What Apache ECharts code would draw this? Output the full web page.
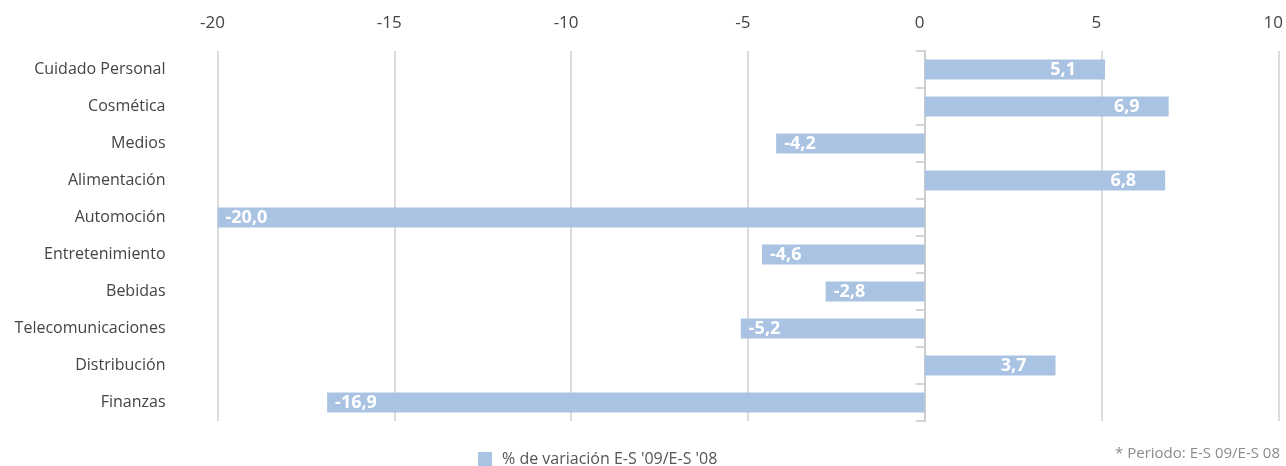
<!DOCTYPE html>
<html><head><meta charset="utf-8">
<script src="https://cdn.jsdelivr.net/npm/echarts@6/dist/echarts.min.js"></script>
<style>html,body{margin:0;padding:0;background:#fff}#c{width:1286px;height:466px}</style>
</head><body><div id="c"></div>
<script>
const categories = ['Cuidado Personal','Cosmética','Medios','Alimentación','Automoción','Entretenimiento','Bebidas','Telecomunicaciones','Distribución','Finanzas'];
const values = [5.1, 6.9, -4.2, 6.8, -20.0, -4.6, -2.8, -5.2, 3.7, -16.9];
const xTicks = [-20, -15, -10, -5, 0, 5, 10];
const seriesName = "% de variación E-S '09/E-S '08";
const footnote = '* Periodo: E-S 09/E-S 08';

const FONT = '"Open Sans", "Noto Sans", sans-serif';
const chart = echarts.init(document.getElementById('c'));
chart.setOption({
  animation: false,
  textStyle: { fontFamily: FONT },
  grid: { left: 217.5, right: 3.5, top: 51, bottom: 45, containLabel: false },
  legend: {
    data: [seriesName], top: 451, left: 478, padding: 0, itemWidth: 14, itemHeight: 14,
    icon: 'rect',
    textStyle: { color: '#555', fontSize: 16, fontFamily: FONT, padding: [0, 0, 0, 5] }
  },
  graphic: [{
    type: 'text', right: 6, top: 446,
    style: { text: footnote, fill: '#8c8c8c', fontSize: 15, fontFamily: FONT }
  }],
  xAxis: {
    type: 'value', position: 'top', min: xTicks[0], max: xTicks[xTicks.length-1], interval: 5,
    axisLine: { show: false }, axisTick: { show: false },
    axisLabel: { color: '#444', fontSize: 17, margin: 19, padding: [0, 10, 0, 0], fontFamily: FONT },
    splitLine: { show: true, lineStyle: { color: '#cfcfcf', width: 1.5 } }
  },
  yAxis: [{
    type: 'category', data: categories, inverse: true, position: 'left',
    axisLine: { show: false, onZero: false }, axisTick: { show: false },
    axisLabel: { color: '#444', fontSize: 16, margin: 52, fontFamily: FONT }
  }, {
    type: 'category', data: categories, inverse: true, position: 'left',
    axisLine: { show: true, onZero: true, lineStyle: { color: '#c8c8c8', width: 1.5 } },
    axisTick: { show: true, length: 9, lineStyle: { color: '#c8c8c8', width: 1.5 } },
    axisLabel: { show: false }
  }],
  series: [{
    name: seriesName, type: 'bar', yAxisIndex: 0, barWidth: 20,
    data: values.map(v => v < 0 ? { value: v, label: { position: 'insideLeft', distance: 8 } } : { value: v }),
    itemStyle: { color: '#aac3e2' },
    label: {
      show: true, color: '#fff', fontWeight: 'bold', fontSize: 18, fontFamily: FONT,
      formatter: p => p.value.toFixed(1).replace('.', ','),
      position: 'insideRight', distance: 29
    }
  }]
});
</script></body></html>
